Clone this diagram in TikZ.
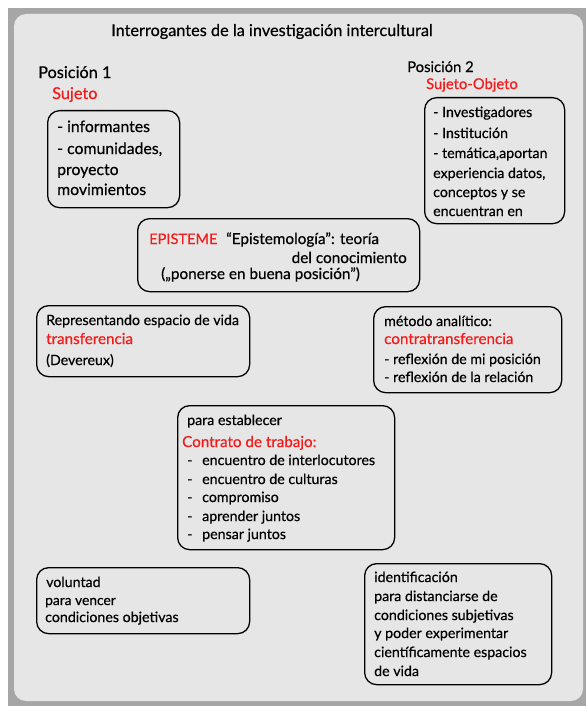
\documentclass[tikz,border=0pt]{standalone}
\usepackage{fontspec}
\setmainfont{Lato}[AutoFakeBold=0.5]
\definecolor{outergrey}{HTML}{A6A6A6}
\definecolor{innergrey}{HTML}{E6E6E6}
\definecolor{txtred}{HTML}{F21C1C}
\newcommand{\fsz}[1]{\fontsize{#1}{#1}\selectfont\bfseries}
\begin{document}
\begin{tikzpicture}[x=1pt,y=-1pt,
  boxnode/.style={draw=black, line width=1.3pt, rounded corners=12pt, anchor=north west, inner sep=0pt},
  txt/.style={anchor=mid west, inner sep=0pt, yshift=-1.5pt, font=\fsz{14.2}},
  rtxt/.style={txt, text=txtred, font=\fsz{15.2}},
  big/.style={font=\fsz{16.3}},
  mid/.style={font=\fsz{15.3}}
]
\useasboundingbox (0,0) rectangle (586,706);
\fill[outergrey] (8,8) rectangle (586,706);
\fill[innergrey, rounded corners=12pt] (14,14) rectangle (583,701);

% title
\node[txt, big] (title) at (111,32) {Interrogantes de la investigación intercultural};

% Position 1
\node[txt, big] (pos1) at (38,74) {Posición 1};
\node[rtxt, big] (suj) at (52,95) {Sujeto};
\node[boxnode, minimum width=132pt, minimum height=97pt] (b1) at (47,110) {};
\node[txt, font=\fsz{15.8}] (b1a) at (57,128) {- informantes};
\node[txt, font=\fsz{15.8}] (b1b) at (57,150) {- comunidades,};
\node[txt, font=\fsz{15.8}] (b1c) at (57,171) {proyecto};
\node[txt, font=\fsz{15.8}] (b1d) at (57,191) {movimientos};

% Position 2
\node[txt, font=\fsz{14.8}] (pos2) at (407,68) {Posición 2};
\node[rtxt, font=\fsz{14.8}] (sujobj) at (426,85) {Sujeto-Objeto};
\node[boxnode, minimum width=140pt, minimum height=126pt] (b2) at (424,97) {};
\node[txt] (b2a) at (433,113) {- Investigadores};
\node[txt] (b2b) at (433,134) {- Institución};
\node[txt] (b2c) at (433,154) {- temática,aportan};
\node[txt] (b2d) at (433,174) {experiencia datos,};
\node[txt] (b2e) at (433,193) {conceptos y se};
\node[txt] (b2f) at (433,212) {encuentran en};

% Episteme
\node[boxnode, minimum width=282pt, minimum height=73pt] (b3) at (137,218) {};
\node[rtxt, font=\fsz{14.6}] (epi) at (149,240) {EPISTEME};
\node[txt, mid] (epia) at (226,240) {“Epistemología”: teoría};
\node[txt, mid, anchor=mid east] (epib) at (407,259) {del conocimiento};
\node[txt, mid] (epic) at (161,275) {(„ponerse en buena posición”)};

% transferencia
\node[boxnode, minimum width=213pt, minimum height=71pt] (b4) at (36,305) {};
\node[txt] (b4a) at (46,321) {Representando espacio de vida};
\node[rtxt] (b4b) at (46,340) {transferencia};
\node[txt] (b4c) at (46,361) {(Devereux)};

% contratransferencia
\node[boxnode, minimum width=188pt, minimum height=86pt] (b5) at (373,306) {};
\node[txt] (b5a) at (384,322) {método analítico:};
\node[rtxt] (b5b) at (384,340) {contratransferencia};
\node[txt] (b5c) at (384,360) {- reflexión de mi posición};
\node[txt] (b5d) at (384,378) {- reflexión de la relación};

% Contrato
\node[boxnode, minimum width=217pt, minimum height=144pt] (b6) at (177,405) {};
\node[txt] (b6a) at (187,421) {para establecer};
\node[rtxt] (b6b) at (182,443) {Contrato de trabajo:};
\node[txt] (d1) at (187,461) {-};
\node[txt] (i1) at (202,461) {encuentro de interlocutores};
\node[txt] (d2) at (187,480) {-};
\node[txt] (i2) at (202,480) {encuentro de culturas};
\node[txt] (d3) at (187,498) {-};
\node[txt] (i3) at (202,498) {compromiso};
\node[txt] (d4) at (187,517) {-};
\node[txt] (i4) at (202,517) {aprender juntos};
\node[txt] (d5) at (187,535) {-};
\node[txt] (i5) at (202,535) {pensar juntos};

% voluntad
\node[boxnode, minimum width=213pt, minimum height=66pt] (b7) at (36,567) {};
\node[txt] (b7a) at (46,583) {voluntad};
\node[txt, font=\fsz{13.8}] (b7b) at (45,601) {para vencer};
\node[txt] (b7c) at (45,618) {condiciones objetivas};

% identificacion
\node[boxnode, minimum width=187pt, minimum height=121pt] (b8) at (364,563) {};
\node[txt] (b8a) at (374,578) {identificación};
\node[txt] (b8b) at (374,597) {para distanciarse de};
\node[txt] (b8c) at (374,616) {condiciones subjetivas};
\node[txt] (b8d) at (374,634) {y poder experimentar};
\node[txt] (b8e) at (374,653) {científicamente espacios};
\node[txt] (b8f) at (374,672) {de vida};
\end{tikzpicture}
\end{document}
